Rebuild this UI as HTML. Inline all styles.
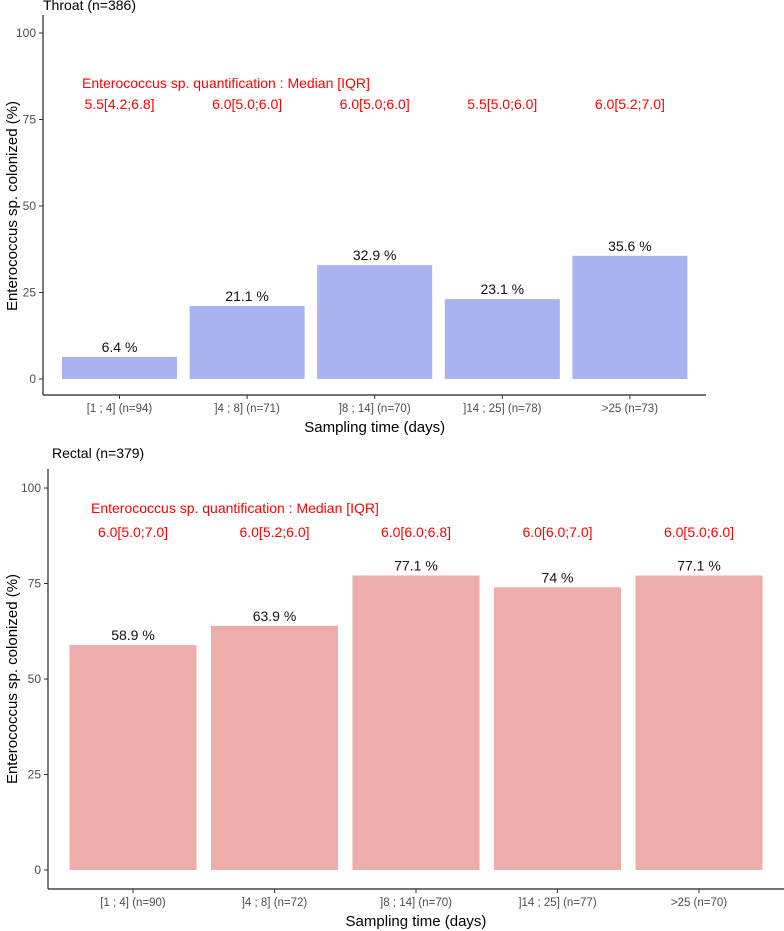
<!DOCTYPE html>
<html><head><meta charset="utf-8"><style>
body{margin:0;background:#fff;}
svg{display:block;font-family:"Liberation Sans",sans-serif;}
</style></head><body>
<svg id="chart" width="784" height="931" xmlns="http://www.w3.org/2000/svg"></svg>
<script>
const categoriesTop = ["[1 ; 4] (n=94)", "]4 ; 8] (n=71)", "]8 ; 14] (n=70)", "]14 ; 25] (n=78)", ">25 (n=73)"];
const valuesTop = [6.4, 21.1, 32.9, 23.1, 35.6];
const valueLabelsTop = ["6.4 %", "21.1 %", "32.9 %", "23.1 %", "35.6 %"];
const iqrTop = ["5.5[4.2;6.8]", "6.0[5.0;6.0]", "6.0[5.0;6.0]", "5.5[5.0;6.0]", "6.0[5.2;7.0]"];
const categoriesBot = ["[1 ; 4] (n=90)", "]4 ; 8] (n=72)", "]8 ; 14] (n=70)", "]14 ; 25] (n=77)", ">25 (n=70)"];
const valuesBot = [58.9, 63.9, 77.1, 74, 77.1];
const valueLabelsBot = ["58.9 %", "63.9 %", "77.1 %", "74 %", "77.1 %"];
const iqrBot = ["6.0[5.0;7.0]", "6.0[5.2;6.0]", "6.0[6.0;6.8]", "6.0[6.0;7.0]", "6.0[5.0;6.0]"];
const yTicks = [0, 25, 50, 75, 100];

const svg = document.getElementById('chart');
const NS = "http://www.w3.org/2000/svg";
function el(tag, attrs, text){
  const e = document.createElementNS(NS, tag);
  for (const k in attrs) e.setAttribute(k, attrs[k]);
  if (text !== undefined) e.textContent = text;
  svg.appendChild(e);
  return e;
}
function panel(p){
  const y = v => p.y0 - (p.y0 - p.y100) * v / 100;
  const x = i => p.c0 + p.step * i;
  const t = el('text', {x:p.titleX, y:p.titleY, 'font-size':14, fill:'#000'}, p.title);
  
  
  const ya = el('line', {x1:p.x0, x2:p.x0, y1:p.yTop, y2:p.axisY, stroke:'#222', 'stroke-width':1.2});
  
  
  const xa = el('line', {x1:p.x0, x2:p.xEnd, y1:p.axisY, y2:p.axisY, stroke:'#222', 'stroke-width':1.2});
  
  
  yTicks.forEach(v => {
    el('line', {x1:p.x0-4, x2:p.x0, y1:y(v), y2:y(v), stroke:'#333'});
    const tl = el('text', {x:p.x0-7, y:y(v)+4, 'font-size':12, fill:'#4d4d4d', 'text-anchor':'end'}, v);
    
    
  });
  const yt = el('text', {x:0, y:0, 'font-size':15, fill:'#000', 'text-anchor':'middle', transform:`translate(${p.yTitleX},${(p.y0+p.y100)/2}) rotate(-90)`}, 'Enterococcus sp. colonized (%)');
  
  
  p.values.forEach((v, i) => {
    const b = el('rect', {x:x(i)-p.bw/2, y:y(v), width:p.bw, height:y(0)-y(v), fill:p.color});
    
    
    const vl = el('text', {x:x(i), y:y(v)-5, 'font-size':14, fill:'#111', 'text-anchor':'middle'}, p.valueLabels[i]);
    
    
    const q = el('text', {x:x(i), y:p.iqrY, 'font-size':14, fill:'#ff0000', 'text-anchor':'middle'}, p.iqr[i]);
    
    
    el('line', {x1:x(i), x2:x(i), y1:p.axisY, y2:p.axisY+4, stroke:'#333'});
    const cl = el('text', {x:x(i), y:p.axisY+17, 'font-size':11.5, fill:'#4d4d4d', 'text-anchor':'middle'}, p.cats[i]);
    
    
  });
  const h = el('text', {x:p.headX, y:p.headY, 'font-size':14, fill:'#ff0000'}, 'Enterococcus sp. quantification : Median [IQR]');
  
  
  const xt = el('text', {x:p.c0 + p.step*2, y:p.axisY+37, 'font-size':15, fill:'#000', 'text-anchor':'middle'}, 'Sampling time (days)');
  
  
}
panel({key:'throat', title:'Throat (n=386)', titleX:43, titleY:10, x0:43, xEnd:706, c0:119.5, step:127.6, bw:115,
  y0:379, y100:33, yTop:15, axisY:395, yTitleX:17, color:'#aab2ef',
  values:valuesTop, valueLabels:valueLabelsTop, iqr:iqrTop, cats:categoriesTop,
  headX:82, headY:88, iqrY:109});
panel({key:'rectal', title:'Rectal (n=379)', titleX:52, titleY:458, x0:48, xEnd:784, c0:133, step:141.5, bw:127,
  y0:870, y100:488, yTop:469, axisY:889, yTitleX:17, color:'#edaeab',
  values:valuesBot, valueLabels:valueLabelsBot, iqr:iqrBot, cats:categoriesBot,
  headX:91, headY:513, iqrY:537});
</script>
</body></html>
